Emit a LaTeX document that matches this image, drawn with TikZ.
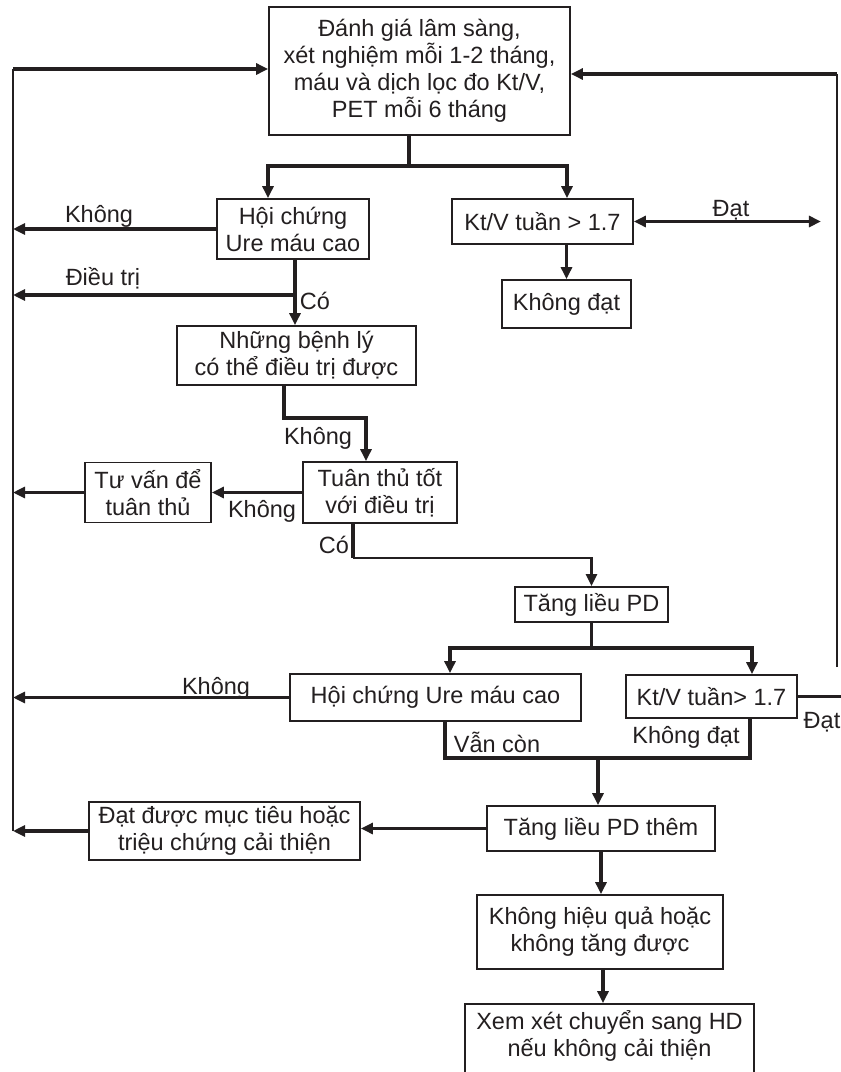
\documentclass[tikz,border=0pt]{standalone}
\usepackage{fontspec}
\setmainfont{Liberation Sans}
\usetikzlibrary{arrows.meta}
\definecolor{ink}{RGB}{35,31,32}
\begin{document}
\begin{tikzpicture}[x=1pt,y=-1pt,
  box/.style={draw=ink, line width=1.8pt, align=center, inner sep=0pt,
    font=\fontsize{23.5}{27}\selectfont, text=ink},
  lbl/.style={font=\fontsize{23.5}{27}\selectfont, text=ink, inner sep=0pt},
  wire/.style={draw=ink, line width=3.2pt},
  rail/.style={draw=ink, line width=2.2pt},
  tip/.tip={Triangle[length=12pt,width=11pt]},
  arr/.style={wire, -tip},
]
\useasboundingbox (0,0) rectangle (841,1072);
\clip (0,0) rectangle (841,1072);
\fill[white] (0,0) rectangle (841,1072);

% boxes
\node[box, minimum width=301, minimum height=128] (B1) at (419.5,71)
  {Đánh giá lâm sàng,\\ xét nghiệm mỗi 1-2 tháng,\\ máu và dịch lọc đo Kt/V,\\ PET mỗi 6 tháng};
\node[box, minimum width=152, minimum height=60] (HC1) at (293,229) {Hội chứng\\Ure máu cao};
\node[box, minimum width=181, minimum height=45] (Kt1) at (542.5,221.5) {Kt/V tuần > 1.7};
\node[box, minimum width=129, minimum height=48] (KD) at (566.5,304) {Không đạt};
\node[box, minimum width=239, minimum height=59] (NB) at (296.5,355.5) {Những bệnh lý\\có thể điều trị được};
\node[box, minimum width=154, minimum height=61] (TT) at (380,492.5) {Tuân thủ tốt\\với điều trị};
\node[box, minimum width=126, minimum height=60] (TV) at (148,492.5) {Tư vấn để\\tuân thủ};
\node[box, minimum width=153, minimum height=35] (TL) at (591.5,604.5) {Tăng liều PD};
\node[box, minimum width=291, minimum height=47] (HC2) at (435.5,697.5) {Hội chứng Ure máu cao};
\node[box, minimum width=171, minimum height=43] (Kt2) at (711.5,696.5) {Kt/V tuần> 1.7};
\node[box, minimum width=228, minimum height=45] (TLT) at (601,828.5) {Tăng liều PD thêm};
\node[box, minimum width=271, minimum height=58] (DD) at (224.5,831) {Đạt được mục tiêu hoặc\\triệu chứng cải thiện};
\node[box, minimum width=246, minimum height=74] (KHQ) at (600,932) {Không hiệu quả hoặc\\không tăng được};
\node[box, minimum width=289, minimum height=96] (XX) at (609.5,1052) {};
\node[lbl, align=center] (XXt) at (609.5,1036) {Xem xét chuyển sang HD\\nếu không cải thiện};

% side rails
\coordinate (Lt) at (13,69);
\coordinate (Lb) at (13,831);
\coordinate (Rt) at (837,74);
\coordinate (Rb) at (837,667);
\draw[rail] (Lb) -- (Lt);
\draw[arr] (Lt) -- (Lt -| B1.west);
\draw[rail] (Rb) -- (Rt);
\draw[arr] (Rt) -- (Rt -| B1.east);

% first split
\draw[wire] ([xshift=-10.5pt]B1.south) -- ++(0,30) coordinate (s1);
\draw[arr] (s1) -| ([xshift=-25pt]HC1.north);
\draw[arr] (s1) -| ([xshift=24.5pt]Kt1.north);

% Kt/V branch
\draw[wire, tip-tip] (Kt1.east) -- ++(187,0) coordinate (datEnd);
\node[lbl] (lDat1) at (731,210) {Đạt};
\draw[arr] (KD.north |- Kt1.south) -- (KD.north);

% uremia branch
\draw[arr] (HC1.west) -- (HC1.west -| Lt);
\node[lbl] (lKhong1) at (99,216) {Không};
\draw[arr] ([xshift=2pt]HC1.south) -- ([xshift=2pt]HC1.south |- NB.north);
\coordinate (dt) at (295,295);
\draw[arr] (dt) -- (dt -| Lt);
\node[lbl] (lDieutri) at (103,278) {Điều trị};
\node[lbl] (lCo1) at (315,301) {Có};

\draw[arr] ([xshift=-12.5pt]NB.south) -- ++(0,32) -| ([xshift=-14pt]TT.north);
\node[lbl] (lKhong2) at (318,438) {Không};

\draw[arr] (TT.west) -- (TV.east);
\node[lbl] (lKhong3) at (262,511) {Không};
\draw[arr] (TV.west) -- (TV.west -| Lt);

\draw[wire] ([xshift=-27pt]TT.south) -- ++(0,34) coordinate (c1);
\draw[arr, line width=2.4pt] (c1) -| (TL.north);
\node[lbl] (lCo2) at (334,545) {Có};

% second split
\draw[wire] (TL.south) -- ++(0,25) coordinate (s2);
\draw[arr] (s2) -| ([xshift=14.5pt]HC2.north);
\draw[arr] (s2) -| ([xshift=40.5pt]Kt2.north);

\draw[arr] (HC2.west) -- (HC2.west -| Lt);
\node[lbl] (lKhong4) at (216,688) {Không};
\draw[wire] (Kt2.east) -- ++(44,0) coordinate (datEnd2);
\node[lbl] (lDat2) at (822,722) {Đạt};

\coordinate (m) at (598,758);
\draw[wire] ([xshift=9.5pt]HC2.south) |- (m) -| ([xshift=38.5pt]Kt2.south);
\node[lbl] (lVan) at (497,742) {Vẫn còn};
\node[lbl] (lKdat) at (686,737) {Không đạt};
\draw[arr] (m) -- (m |- TLT.north);

% final steps
\draw[arr] (TLT.west) -- (TLT.west -| DD.east);
\draw[arr] (DD.west) -- (DD.west -| Lb);
\draw[arr] (TLT.south) -- (TLT.south |- KHQ.north);
\draw[arr] ([xshift=3pt]KHQ.south) -- ([xshift=3pt]KHQ.south |- XX.north);
\end{tikzpicture}
\end{document}
